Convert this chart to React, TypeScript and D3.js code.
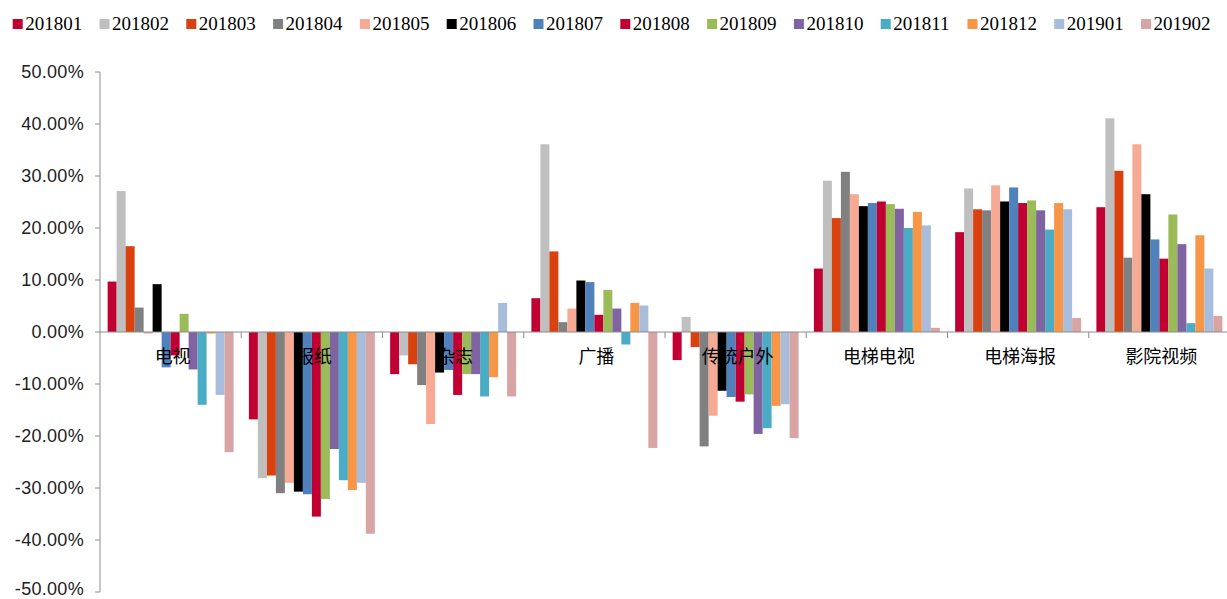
import React from "react";
import * as d3 from "d3";

// Media categories along the x axis
const categories = ["电视", "报纸", "杂志", "广播", "传统户外", "电梯电视", "电梯海报", "影院视频"];

// Monthly periods (one bar per period inside each category)
const periods = [
  "201801", "201802", "201803", "201804", "201805", "201806", "201807",
  "201808", "201809", "201810", "201811", "201812", "201901", "201902",
];

const periodColors = [
  "#C00032", "#BFBFBF", "#D9410F", "#808080", "#F6A993", "#000000", "#4F81BD",
  "#C00032", "#9BBB59", "#8064A2", "#4BACC6", "#F79646", "#A8BCDB", "#D8A4A4",
];

// Year-on-year change (%) by period, one array per category
const tv = [9.7, 27.1, 16.5, 4.7, -0.3, 9.2, -6.8, -4.5, 3.5, -7.2, -14.0, -0.3, -12.1, -23.1];
const newspaper = [-16.8, -28.1, -27.6, -31.0, -29.0, -30.7, -31.2, -35.5, -32.1, -22.5, -28.5, -30.4, -29.0, -38.8];
const magazine = [-8.1, -4.5, -6.2, -10.2, -17.7, -7.8, -7.3, -12.1, -8.1, -8.1, -12.4, -8.7, 5.6, -12.4];
const radio = [6.5, 36.1, 15.5, 1.9, 4.5, 9.9, 9.6, 3.3, 8.1, 4.5, -2.4, 5.6, 5.1, -22.3];
const outdoor = [-5.4, 2.9, -2.9, -22.0, -16.1, -11.3, -12.5, -13.4, -12.0, -19.6, -18.5, -14.2, -13.9, -20.4];
const elevatorTv = [12.2, 29.1, 21.9, 30.8, 26.5, 24.2, 24.8, 25.1, 24.6, 23.7, 20.0, 23.1, 20.5, 0.8];
const elevatorPoster = [19.2, 27.6, 23.6, 23.4, 28.2, 25.1, 27.8, 24.8, 25.3, 23.4, 19.7, 24.8, 23.6, 2.7];
const cinema = [24.0, 41.1, 31.0, 14.3, 36.1, 26.5, 17.8, 14.1, 22.6, 16.9, 1.7, 18.6, 12.2, 3.1];

const seriesByCategory = [tv, newspaper, magazine, radio, outdoor, elevatorTv, elevatorPoster, cinema];

const yTicks = [50, 40, 30, 20, 10, 0, -10, -20, -30, -40, -50];

const W = 1227;
const H = 599;
const plotLeft = 100;
const plotRight = 1230;
const plotTop = 72;
const plotBottom = 592;

export default function App() {
  const y = d3.scaleLinear().domain([-50, 50]).range([plotBottom, plotTop]);
  const x0 = d3.scaleBand<string>().domain(categories).range([plotLeft, plotRight]).paddingInner(0).paddingOuter(0);
  const x1 = d3
    .scaleBand<string>()
    .domain(periods)
    .range([0, x0.bandwidth()])
    .paddingInner(0)
    .paddingOuter(0.85);

  const legendStep = 86.8;
  const legendX = (i: number) => 12.7 + i * legendStep;

  const axisColor = "#8C8C8C";
  const y0 = y(0);

  return (
    <svg
      width={W}
      height={H}
      style={{ position: "absolute", left: 0, top: 0, background: "#fff" }}
    >
      {/* legend */}
      <g>
        {periods.map((p, i) => (
          <g key={p} transform={`translate(${legendX(i)},0)`}>
            <rect x={0} y={19} width={10} height={10} fill={periodColors[i]} />
            <text
              x={12.5}
              y={30}
              fontFamily="'Liberation Serif', 'Times New Roman', serif"
              fontSize={19}
              fill="#000"
            >
              {p}
            </text>
          </g>
        ))}
      </g>

      {/* value axis */}
      <line x1={plotLeft} x2={plotLeft} y1={plotTop} y2={plotBottom} stroke={axisColor} strokeWidth={1} />
      {yTicks.map((t) => (
        <g key={t}>
          <line x1={plotLeft - 5} x2={plotLeft} y1={y(t)} y2={y(t)} stroke={axisColor} strokeWidth={1} />
          <text
            x={84}
            y={Math.min(y(t), H - 10)}
            dy="0.36em"
            textAnchor="end"
            fontFamily="'Liberation Sans', Arial, sans-serif"
            fontSize={18}
            letterSpacing={0.3}
            fill="#222"
          >
            {`${t.toFixed(2)}%`}
          </text>
        </g>
      ))}

      {/* bars */}
      {categories.map((c, ci) => (
        <g key={c} transform={`translate(${x0(c)},0)`}>
          {periods.map((p, pi) => {
            const v = seriesByCategory[ci][pi];
            const top = Math.min(y(v), y0);
            const h = Math.abs(y(v) - y0);
            return (
              <rect
                key={p}
                x={x1(p)}
                y={top}
                width={x1.bandwidth()}
                height={h}
                fill={periodColors[pi]}
              />
            );
          })}
        </g>
      ))}

      {/* category axis at zero */}
      <line x1={plotLeft} x2={plotRight} y1={y0} y2={y0} stroke={axisColor} strokeWidth={1} />
      {categories.map((c) => (
        <line
          key={`tick-${c}`}
          x1={(x0(c) as number) + x0.bandwidth()}
          x2={(x0(c) as number) + x0.bandwidth()}
          y1={y0}
          y2={y0 + 6}
          stroke={axisColor}
          strokeWidth={1}
        />
      ))}
      {categories.map((c) => (
        <text
          key={`label-${c}`}
          x={(x0(c) as number) + x0.bandwidth() / 2 + 2}
          y={357}
          dy="0.36em"
          textAnchor="middle"
          fontFamily="'Noto Sans CJK SC', sans-serif"
          fontSize={18}
          fill="#000"
        >
          {c}
        </text>
      ))}
    </svg>
  );
}
